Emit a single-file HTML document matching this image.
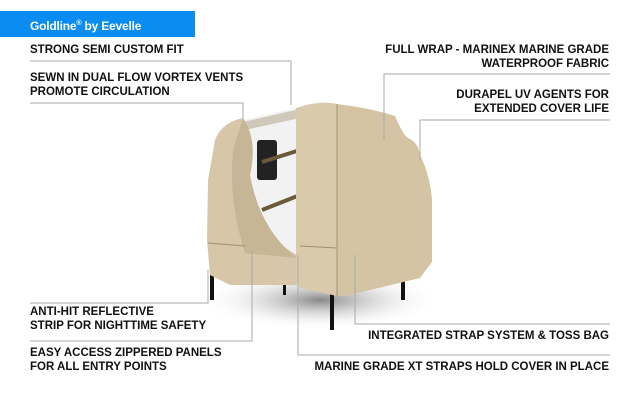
<!DOCTYPE html>
<html><head><meta charset="utf-8"><style>
body{margin:0;width:640px;height:400px;background:#fff;position:relative;overflow:hidden;font-family:"Liberation Sans",Arial,sans-serif}
.t{position:absolute;font-weight:bold;font-size:11.5px;letter-spacing:0px;line-height:14px;color:#111;white-space:nowrap}
.r{text-align:right}
svg{position:absolute;left:0;top:0}
</style></head><body>
<div style="position:absolute;left:0;top:11px;width:195px;height:26px;background:#0a8cf0"></div>
<div class="t" style="left:30px;top:17px;color:#fff;font-size:12px;letter-spacing:-0.2px">Goldline<sup style="font-size:7px">®</sup> by Eevelle</div>
<svg width="640" height="400" viewBox="0 0 640 400">
<defs><radialGradient id="sh"><stop offset="0" stop-color="#555" stop-opacity=".7"/><stop offset="1" stop-color="#fff" stop-opacity="0"/></radialGradient></defs>
<ellipse cx="320" cy="300" rx="120" ry="30" fill="url(#sh)"/>
<g fill="#111">
<rect x="210" y="270" width="4" height="30"/><rect x="330" y="285" width="4" height="45"/>
<rect x="401" y="270" width="4" height="30"/><rect x="283" y="285" width="3" height="10"/>
</g>
<path d="M243 120 L300 107 L300 255 L250 250Z" fill="#f2f2f2"/>
<path d="M243 122 L300 109 L300 118 L245 130Z" fill="#d0c9bb"/>
<rect x="257" y="140" width="20" height="40" rx="3" fill="#222"/>
<path d="M262 162 L300 150 M262 210 L300 195" stroke="#6b5a3a" stroke-width="4"/>
<path d="M215 140 Q222 122 243 118 Q240 140 238 170 Q250 230 297 255 L297 285 L230 285 L210 275 L207 240 L208 180Z" fill="#d7c7a8"/>
<path d="M243 118 Q258 140 250 175 Q260 230 297 258 L245 253 Q228 200 233 150Z" fill="#c6b695"/>
<path d="M296 108 Q320 100 337 104 L337 296 L300 288 L296 280Z" fill="#d9caab"/>
<path d="M337 104 Q370 108 395 116 Q403 135 408 138 Q418 142 420 155 Q430 175 432 200 L432 262 L420 278 L345 296 L337 296Z" fill="#d4c4a3"/>
<line x1="337" y1="104" x2="337" y2="296" stroke="#a39477"/>
<line x1="208" y1="243" x2="245" y2="246" stroke="#9e8f73"/>
<line x1="300" y1="246" x2="337" y2="248" stroke="#9e8f73"/>
<g fill="none" stroke="#aaa" stroke-width="1">
<polyline points="30,61 291,61 291,105"/>
<polyline points="30,103 243,103 243,120"/>
<polyline points="610,74 384,74 384,140"/>
<polyline points="610,120 420,120 420,160"/>
<polyline points="30,303 208,303 208,270"/>
<polyline points="30,341 252,341 252,250"/>
<polyline points="610,324 355,324 355,255"/>
<polyline points="610,355 298,355 298,255"/>
</g>
</svg>
<div class="t" style="left:30px;top:43px">STRONG SEMI CUSTOM FIT</div>
<div class="t" style="left:30px;top:71px">SEWN IN DUAL FLOW VORTEX VENTS<br>PROMOTE CIRCULATION</div>
<div class="t r" style="right:31px;top:43px">FULL WRAP - MARINEX MARINE GRADE<br>WATERPROOF FABRIC</div>
<div class="t r" style="right:31px;top:88px">DURAPEL UV AGENTS FOR<br>EXTENDED COVER LIFE</div>
<div class="t" style="left:30px;top:305px">ANTI-HIT REFLECTIVE<br>STRIP FOR NIGHTTIME SAFETY</div>
<div class="t" style="left:30px;top:346px">EASY ACCESS ZIPPERED PANELS<br>FOR ALL ENTRY POINTS</div>
<div class="t r" style="right:31px;top:329px">INTEGRATED STRAP SYSTEM &amp; TOSS BAG</div>
<div class="t r" style="right:31px;top:360px">MARINE GRADE XT STRAPS HOLD COVER IN PLACE</div>
</body></html>
